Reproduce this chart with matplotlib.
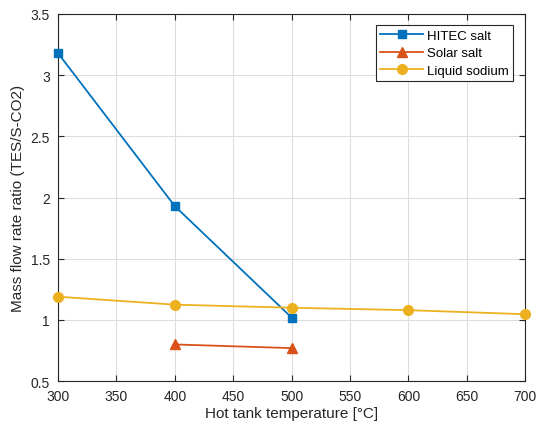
import matplotlib
matplotlib.use("Agg")
import matplotlib.pyplot as plt

plt.rcParams['font.family'] = ['Liberation Sans', 'DejaVu Sans']

temps_hitec = [300, 400, 500]
hitec = [3.18, 1.93, 1.02]
temps_solar = [400, 500]
solar = [0.80, 0.77]
temps_sodium = [300, 400, 500, 600, 700]
sodium = [1.19, 1.125, 1.10, 1.08, 1.047]

fig = plt.figure(figsize=(5.37, 4.27), dpi=100)
ax = fig.add_axes([0.108, 0.105, 0.870, 0.860])

ax.plot(temps_hitec, hitec, '-s', color='#0072BD', lw=1.3, ms=6, label='HITEC salt', clip_on=False, zorder=3)
ax.plot(temps_solar, solar, '-^', color='#D95319', lw=1.3, ms=7, label='Solar salt', clip_on=False, zorder=3)
ax.plot(temps_sodium, sodium, '-o', color='#EDB120', lw=1.3, ms=7, label='Liquid sodium', clip_on=False, zorder=3)

ax.set_xlim(300, 700)
ax.set_ylim(0.5, 3.5)
ax.set_xticks(range(300, 701, 50))
ax.set_yticks([0.5, 1, 1.5, 2, 2.5, 3, 3.5])
ax.set_yticklabels(['0.5', '1', '1.5', '2', '2.5', '3', '3.5'])
ax.grid(True, color='#DDDDDD', lw=0.8)
ax.set_axisbelow(True)
ax.tick_params(direction='in', top=True, right=True, labelsize=10, length=4, pad=6,
               color='#262626', labelcolor='#262626')
for s in ax.spines.values():
    s.set_color('#262626')
    s.set_linewidth(0.8)
ax.set_xlabel('Hot tank temperature [°C]', fontsize=11, color='#262626', labelpad=2)
ax.set_ylabel('Mass flow rate ratio (TES/S-CO2)', fontsize=11, color='#262626', labelpad=4)
leg = ax.legend(loc='upper right', bbox_to_anchor=(0.974, 0.970), borderaxespad=0, fontsize=9.5,
                fancybox=False, edgecolor='#262626', framealpha=1, handlelength=3.2,
                handletextpad=0.3, borderpad=0.35, labelspacing=0.4)
leg.get_frame().set_linewidth(0.8)

fig.savefig('out.png', dpi=100)
